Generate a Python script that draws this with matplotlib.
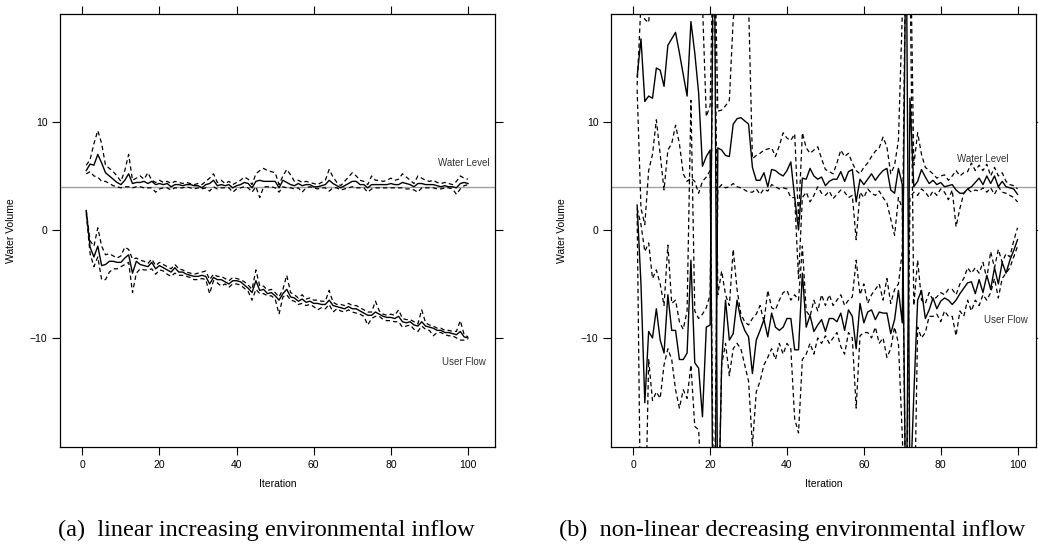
import numpy as np
import matplotlib
matplotlib.use("Agg")
import matplotlib.pyplot as plt

iterations = np.arange(1, 101)

# (a) linear increasing environmental inflow
wl_mean_a = [5.5, 6.1, 6.0, 7.0, 6.2, 5.3, 5.0, 4.7, 4.4, 4.2,
             4.6, 5.2, 4.3, 4.4, 4.4, 4.5, 4.3, 4.5, 4.2, 4.3,
             4.2, 4.3, 4.0, 4.2, 4.2, 4.1, 4.2, 4.2, 4.1, 4.1,
             3.9, 4.2, 4.3, 4.6, 4.1, 4.2, 4.1, 4.2, 3.9, 4.1,
             4.2, 4.4, 4.3, 3.9, 4.5, 4.6, 4.5, 4.5, 4.5, 4.5,
             3.9, 4.6, 4.4, 4.2, 4.1, 4.3, 4.1, 4.2, 4.2, 4.0,
             4.0, 4.1, 4.2, 4.6, 4.3, 4.1, 3.9, 4.1, 4.3, 4.5,
             4.5, 4.2, 4.2, 3.9, 4.2, 4.2, 4.2, 4.2, 4.2, 4.3,
             4.2, 4.2, 4.4, 4.3, 4.2, 4.0, 4.3, 4.3, 4.2, 4.2,
             4.2, 4.1, 4.0, 4.1, 4.0, 4.0, 3.9, 4.3, 4.4, 4.3]
wl_upper_a = [6.0, 6.5, 8.0, 9.2, 8.0, 6.0, 5.7, 5.4, 5.0, 4.5,
              5.5, 7.0, 4.6, 4.8, 5.0, 4.7, 5.3, 4.6, 4.4, 4.6,
              4.4, 4.5, 4.3, 4.5, 4.4, 4.3, 4.4, 4.3, 4.2, 4.3,
              4.2, 4.5, 4.8, 5.2, 4.4, 4.6, 4.3, 4.5, 4.2, 4.4,
              4.6, 4.9, 4.7, 4.2, 5.2, 5.5, 5.7, 5.5, 5.4, 5.3,
              4.2, 5.0, 5.6, 5.1, 4.5, 4.6, 4.4, 4.5, 4.4, 4.3,
              4.2, 4.4, 4.6, 5.6, 4.9, 4.4, 4.1, 4.5, 4.9, 5.3,
              5.0, 4.6, 4.5, 4.2, 5.0, 4.6, 4.6, 4.5, 4.6, 4.8,
              4.6, 4.7, 5.2, 4.9, 4.6, 4.3, 5.0, 4.8, 4.6, 4.5,
              4.6, 4.4, 4.3, 4.4, 4.3, 4.2, 4.5, 5.0, 4.8, 4.7]
wl_lower_a = [5.2, 5.4, 5.0, 4.9, 4.5, 4.5, 4.3, 4.1, 4.0, 3.9,
              4.0, 4.0, 3.9, 4.0, 4.0, 3.9, 3.9, 3.9, 3.5, 3.8,
              3.9, 3.9, 3.7, 3.9, 3.9, 3.9, 4.0, 3.9, 3.8, 3.9,
              3.8, 3.9, 3.6, 4.0, 3.8, 3.9, 3.9, 3.9, 3.5, 3.8,
              3.9, 4.0, 3.9, 3.5, 4.0, 3.0, 4.0, 4.0, 4.0, 3.9,
              3.5, 4.0, 3.9, 3.9, 3.8, 3.9, 3.5, 3.9, 4.0, 3.9,
              3.8, 3.9, 3.9, 3.6, 3.9, 3.9, 3.7, 3.8, 3.9, 4.0,
              3.9, 3.9, 3.9, 3.5, 3.8, 3.9, 3.9, 3.9, 3.9, 3.9,
              3.9, 3.9, 3.9, 3.8, 3.8, 3.7, 3.5, 3.9, 3.9, 3.9,
              3.9, 3.8, 3.8, 3.9, 3.9, 3.8, 3.3, 3.8, 4.1, 4.2]
uf_mean_a = [1.8, -1.6, -2.5, -1.5, -3.3, -3.2, -2.9, -2.9, -3.0, -3.0,
             -2.6, -2.3, -4.0, -2.9, -3.2, -3.3, -3.4, -3.0, -3.6, -3.3,
             -3.5, -3.7, -3.9, -3.5, -3.9, -3.9, -4.1, -4.2, -4.3, -4.3,
             -4.2, -4.3, -5.0, -4.4, -4.6, -4.6, -4.8, -5.0, -4.7, -4.7,
             -4.8, -5.1, -5.4, -5.8, -4.7, -5.6, -5.5, -5.9, -5.8, -6.1,
             -6.5, -5.9, -5.5, -6.2, -6.3, -6.6, -6.4, -6.7, -6.6, -6.8,
             -6.8, -6.9, -6.9, -6.5, -7.0, -7.1, -7.2, -7.3, -7.1, -7.3,
             -7.3, -7.5, -7.7, -7.9, -7.9, -7.6, -7.8, -8.0, -8.1, -8.1,
             -8.2, -8.0, -8.5, -8.6, -8.5, -8.8, -8.9, -8.5, -8.9, -9.0,
             -9.1, -9.3, -9.3, -9.5, -9.5, -9.6, -9.7, -9.4, -9.9, -10.0]
uf_upper_a = [1.8, -1.0, -1.5, 0.2, -1.5, -2.3, -2.2, -2.4, -2.6, -2.4,
              -1.6, -1.8, -2.7, -2.6, -2.8, -2.9, -3.1, -2.7, -3.3, -3.0,
              -3.2, -3.4, -3.6, -3.2, -3.6, -3.7, -3.9, -4.0, -4.1, -4.0,
              -3.9, -3.8, -4.6, -4.1, -4.3, -4.3, -4.5, -4.7, -4.4, -4.5,
              -4.6, -4.8, -5.1, -5.5, -3.7, -5.2, -5.2, -5.6, -5.5, -5.8,
              -6.2, -5.5, -4.2, -5.8, -6.0, -6.3, -6.0, -6.4, -6.3, -6.5,
              -6.5, -6.6, -6.6, -5.6, -6.7, -6.9, -6.9, -7.0, -6.8, -7.0,
              -7.0, -7.2, -7.4, -7.6, -7.6, -6.6, -7.5, -7.8, -7.9, -7.8,
              -7.9, -7.4, -8.2, -8.3, -8.3, -8.5, -8.7, -7.4, -8.6, -8.8,
              -8.9, -9.1, -9.1, -9.3, -9.3, -9.4, -9.4, -8.4, -9.7, -9.9]
uf_lower_a = [1.5, -2.2, -3.4, -2.5, -4.6, -4.6, -3.9, -3.6, -3.6, -3.4,
              -3.2, -3.0, -5.8, -4.0, -3.6, -3.7, -3.7, -3.6, -4.1, -3.7,
              -3.8, -4.1, -4.3, -4.0, -4.2, -4.2, -4.3, -4.4, -4.6, -4.6,
              -4.5, -4.6, -5.9, -4.7, -4.9, -5.2, -5.0, -5.3, -5.0, -5.0,
              -5.1, -5.4, -5.7, -6.5, -5.5, -5.9, -5.9, -6.1, -6.1, -6.4,
              -7.8, -6.2, -6.0, -6.5, -6.6, -6.9, -6.8, -7.0, -6.9, -7.1,
              -7.4, -7.2, -7.3, -6.9, -7.6, -7.3, -7.5, -7.6, -7.4, -7.6,
              -7.7, -7.8, -8.0, -8.8, -8.2, -8.0, -8.0, -8.3, -8.4, -8.4,
              -8.5, -8.5, -9.0, -8.9, -8.8, -9.2, -9.4, -8.9, -9.2, -9.3,
              -9.8, -9.5, -9.5, -9.7, -9.8, -9.8, -10.0, -10.2, -10.2, -10.1]

# (b) non-linear decreasing environmental inflow
wl_mean_b = [14.2, 17.7, 11.9, 12.4, 12.2, 15.0, 14.8, 13.3, 17.1, 17.7,
             18.3, 16.4, 14.4, 12.4, 19.3, 16.4, 12.7, 5.9, 6.8, 7.4,
             -40.0, 7.6, 7.4, 6.9, 6.8, 9.8, 10.3, 10.4, 10.1, 9.8,
             5.8, 4.6, 4.6, 5.3, 4.0, 5.6, 5.5, 5.2, 5.0, 5.5,
             6.3, 3.0, 0.0, 4.8, 4.7, 5.7, 5.0, 4.7, 4.9, 4.1,
             4.5, 4.7, 4.7, 5.4, 4.5, 5.4, 5.6, 2.6, 4.7, 4.2,
             4.7, 5.2, 4.6, 5.1, 5.5, 5.7, 3.7, 3.4, 5.7, 4.2,
             -30.0, 12.2, 4.0, 4.5, 5.6, 4.9, 4.3, 4.6, 4.2, 4.4,
             4.0, 4.1, 4.2, 3.7, 3.4, 3.4, 3.8, 4.0, 4.4, 4.8,
             4.2, 5.0, 4.3, 5.0, 4.0, 4.5, 4.0, 3.9, 3.8, 3.3]
wl_upper_b = [13.4, 21.0, 19.5, 19.2, 24.0, 24.0, 23.0, 22.0, 24.0, 25.0,
              24.0, 23.0, 22.0, 23.0, 25.0, 22.0, 22.0, 21.0, 10.5, 11.5,
              30.0, 11.0, 11.1, 11.5, 12.0, 19.5, 22.0, 22.0, 21.0, 21.0,
              6.6, 6.9, 7.1, 7.4, 7.5, 7.6, 6.8, 7.8, 9.0, 8.5,
              8.3, 8.9, 1.0, 9.0, 7.6, 7.1, 7.4, 7.7, 6.6, 5.6,
              5.4, 5.2, 6.2, 7.4, 6.8, 7.1, 6.2, 5.5, 5.2, 5.8,
              6.2, 6.8, 7.3, 7.6, 8.6, 7.7, 5.2, 6.0, 8.3, 20.0,
              30.0, 30.0, 6.0, 9.0, 7.0, 5.8, 5.5, 5.2, 4.8, 5.0,
              5.1, 4.6, 5.0, 5.5, 5.0, 5.3, 5.4, 6.2, 5.5, 6.0,
              5.5, 6.1, 5.0, 5.8, 5.0, 5.3, 4.5, 4.2, 4.1, 3.8]
wl_lower_b = [13.0, 2.0, 0.5, 5.5, 7.0, 10.2, 7.0, 3.7, 7.4, 8.0,
              9.7, 8.0, 5.2, 4.5, 4.8, 4.5, 3.4, 4.5, 4.9, 5.5,
              -30.0, 3.8, 4.2, 3.9, 4.0, 4.3, 4.0, 3.9, 3.7, 3.5,
              3.5, 3.8, 3.3, 3.8, 3.6, 4.2, 4.0, 3.8, 3.9, 3.8,
              3.0, 3.0, -4.5, 3.0, 3.5, 2.6, 3.2, 4.0, 3.4, 3.2,
              3.6, 2.9, 3.3, 3.7, 3.5, 3.0, 3.2, -0.9, 3.5, 3.0,
              3.8, 3.4, 3.2, 3.6, 3.0, 2.5, 1.0, -0.5, 3.0, 2.0,
              -30.0, 3.0, 3.5, 3.2, 3.8, 3.5, 3.0, 3.6, 3.2, 3.8,
              3.5, 2.8, 3.7, 0.3, 2.0, 3.4, 3.8, 3.5, 3.7, 3.6,
              3.9, 3.5, 3.9, 3.3, 4.0, 3.5, 3.4, 3.2, 3.0, 2.6]
uf_mean_b = [2.3, -5.0, -16.0, -9.4, -10.0, -7.3, -10.2, -11.4, -6.0, -9.3,
             -9.3, -12.0, -12.0, -11.4, -2.8, -12.3, -12.8, -17.3, -9.0, -8.8,
             35.0, -30.0, -12.3, -6.5, -10.2, -9.6, -6.5, -8.3, -9.3, -9.9,
             -13.3, -10.2, -9.3, -8.3, -9.9, -7.7, -9.0, -9.3, -9.0, -8.2,
             -8.2, -11.1, -11.1, -4.0, -9.0, -7.9, -9.4, -8.8, -8.3, -9.4,
             -8.2, -8.2, -8.5, -7.7, -9.3, -7.4, -8.0, -11.0, -6.8, -8.6,
             -7.6, -7.4, -8.3, -7.6, -7.7, -7.7, -9.6, -8.3, -5.6, -8.6,
             30.0, -25.0, -15.3, -6.5, -5.6, -8.2, -7.4, -6.3, -7.3, -6.6,
             -6.3, -6.5, -6.9, -6.5, -5.9, -5.4, -4.9, -4.8, -5.9, -4.6,
             -5.8, -4.2, -5.5, -3.5, -5.0, -3.0, -4.0, -2.8, -1.9, -0.9]
uf_upper_b = [2.0, 0.5, -2.0, -1.2, -4.5, -3.7, -5.0, -7.0, -1.4, -6.8,
              -6.5, -8.5, -9.2, -7.5, 12.0, -7.5, -8.2, -7.8, -7.2, -6.0,
              30.0, -6.0, -3.8, -6.0, -7.0, -1.8, -5.5, -7.8, -8.5, -8.8,
              -8.2, -7.8, -7.0, -8.5, -5.6, -7.2, -7.4, -6.5, -5.8, -5.6,
              -6.5, -6.0, -6.5, -1.5, -7.5, -8.0, -6.5, -7.5, -6.0, -7.0,
              -6.0, -7.0, -6.5, -6.0, -7.0, -6.5, -6.2, -2.8, -6.0, -5.0,
              -6.8, -6.0, -5.5, -5.0, -6.5, -4.5, -6.8, -5.5, -5.0, -2.0,
              30.0, 25.0, -7.0, -2.8, -6.5, -6.8, -5.8, -6.5, -6.2, -5.8,
              -6.0, -5.5, -5.5, -6.0, -5.0, -4.5, -3.5, -4.0, -3.5, -4.0,
              -3.0, -4.5, -2.0, -3.5, -1.8, -3.0, -2.2, -2.5, -1.0, 0.2]
uf_lower_b = [1.5, -30.0, -30.0, -12.0, -15.8, -15.0, -15.6, -12.5, -11.0, -12.0,
              -14.8, -16.5, -14.8, -15.6, -12.5, -18.2, -18.5, -25.0, -21.0, -30.0,
              -30.0, -30.0, -12.5, -10.5, -13.5, -11.0, -10.5, -11.0, -12.5, -14.0,
              -20.0, -15.0, -14.0, -12.5, -11.8, -11.0, -12.0, -10.5, -11.5, -10.5,
              -11.0, -17.5, -18.8, -12.0, -11.5, -10.5, -11.5, -10.0, -10.5, -9.8,
              -10.5, -10.0, -9.5, -10.8, -11.5, -9.5, -10.0, -16.5, -9.8, -9.5,
              -9.5, -10.0, -9.0, -10.5, -10.0, -11.8, -11.0, -9.0, -10.5, -19.0,
              -30.0, -30.0, -30.0, -9.0, -10.0, -9.5, -8.0, -8.0, -7.8, -8.5,
              -7.5, -8.0, -8.0, -9.8, -7.5, -8.0, -6.5, -7.5, -6.5, -7.0,
              -6.0, -6.5, -5.8, -4.5, -6.3, -4.5, -4.0, -3.5, -2.5, -1.5]

target_level = 4
captions = ["(a)  linear increasing environmental inflow",
            "(b)  non-linear decreasing environmental inflow"]

panels = [
    dict(series=(wl_mean_a, wl_upper_a, wl_lower_a, uf_mean_a, uf_upper_a, uf_lower_a),
         wl_label=(99, 6.2), uf_label=(99, -12.2)),
    dict(series=(wl_mean_b, wl_upper_b, wl_lower_b, uf_mean_b, uf_upper_b, uf_lower_b),
         wl_label=(91, 6.6), uf_label=(97, -8.3)),
]

plt.rcParams['font.family'] = ['Liberation Sans', 'DejaVu Sans']

fig = plt.figure(figsize=(10.38, 5.46), dpi=100)
axes_rects = [[60 / 1038, 99 / 546, 435 / 1038, 433 / 546],
              [611 / 1038, 99 / 546, 425 / 1038, 433 / 546]]

for k, (rect, p) in enumerate(zip(axes_rects, panels)):
    ax = fig.add_axes(rect)
    wl_m, wl_u, wl_l, uf_m, uf_u, uf_l = p["series"]
    ax.axhline(target_level, color="#a0a0a0", lw=1.0, zorder=1)
    for s in (wl_u, wl_l, uf_u, uf_l):
        ax.plot(iterations, s, color="black", lw=0.9, ls=(0, (3.5, 2.5)), zorder=2)
    for s in (wl_m, uf_m):
        ax.plot(iterations, s, color="black", lw=1.0, zorder=3)

    ax.text(*p["wl_label"], "Water Level", ha="center", va="center", fontsize=7, color="#333333")
    ax.text(*p["uf_label"], "User Flow", ha="center", va="center", fontsize=7, color="#333333")

    ax.set_xlim(-5.8, 107 if k == 0 else 104.8)
    ax.set_ylim(-20.1, 20)
    ax.set_xticks([0, 20, 40, 60, 80, 100])
    ax.set_yticks([-10, 0, 10])
    ax.set_yticklabels(["\u221210", "0", "10"])
    ax.tick_params(direction="out", length=6, width=0.8, labelsize=7.5, colors="black",
                   top=True, right=True, pad=3)
    for sp in ax.spines.values():
        sp.set_linewidth(0.9)
    ax.set_xlabel("Iteration", fontsize=7.5, labelpad=7)
    ax.set_ylabel("Water Volume", fontsize=7.5, labelpad=10)

    fig.text(266 / 1038 if k == 0 else 792 / 1038, 16 / 546, captions[k],
             ha="center", va="center", fontsize=17.5, family="Liberation Serif")

fig.savefig("out.png", dpi=100)
